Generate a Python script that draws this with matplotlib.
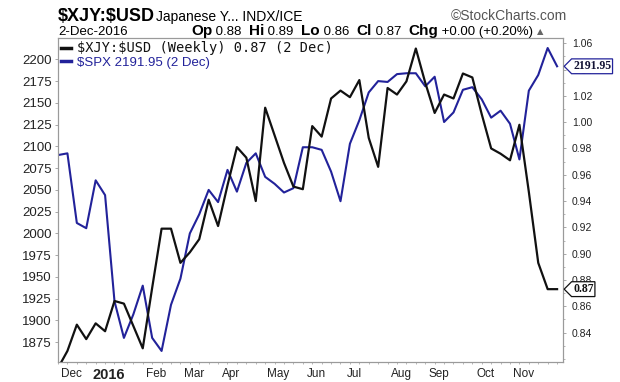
import numpy as np
import pandas as pd
import matplotlib
matplotlib.use("Agg")
import matplotlib.pyplot as plt
from matplotlib.path import Path
from matplotlib.ticker import FormatStrFormatter, MultipleLocator
from matplotlib.transforms import blended_transform_factory

plt.rcParams['font.family'] = ['Liberation Sans', 'DejaVu Sans']
plt.rcParams['text.parse_math'] = False

# weekly closes, 27-Nov-2015 .. 2-Dec-2016
dates = pd.date_range('2015-11-27', '2016-12-02', freq='W-FRI')

spx = [2090, 2092, 2012, 2006, 2061, 2044, 1922, 1880, 1907, 1940,
       1880, 1865, 1918, 1948, 2000, 2022, 2050, 2036, 2073, 2048,
       2081, 2092, 2065, 2057, 2047, 2052, 2099, 2099, 2096, 2071,
       2037, 2103, 2130, 2162, 2175, 2174, 2183, 2184, 2184, 2169,
       2180, 2128, 2139, 2165, 2168, 2154, 2133, 2141, 2126, 2085,
       2164, 2182, 2213, 2192]

xjy = [0.813, 0.826, 0.846, 0.835, 0.847, 0.841, 0.864, 0.862, 0.845, 0.828,
       0.874, 0.919, 0.919, 0.893, 0.901, 0.911, 0.941, 0.921, 0.952, 0.981,
       0.973, 0.940, 1.011, 0.990, 0.969, 0.951, 0.949, 0.997, 0.989, 1.018,
       1.024, 1.019, 1.032, 0.988, 0.966, 1.026, 1.021, 1.031, 1.056, 1.030,
       1.007, 1.021, 1.018, 1.037, 1.034, 1.006, 0.980, 0.976, 0.971, 0.998,
       0.947, 0.893, 0.873, 0.873]

month_keys = ['2015-12', '2016-01', '2016-02', '2016-03', '2016-04', '2016-05',
              '2016-06', '2016-07', '2016-08', '2016-09', '2016-10', '2016-11']
month_labels = ['Dec', '2016', 'Feb', 'Mar', 'Apr', 'May',
                'Jun', 'Jul', 'Aug', 'Sep', 'Oct', 'Nov']

spx_ticks = np.arange(1875, 2201, 25)
xjy_ticks = np.arange(0.84, 1.061, 0.02)

xjy_legend = '$XJY:$USD (Weekly) 0.87 (2 Dec)'
spx_legend = '$SPX 2191.95 (2 Dec)'

BLUE = '#22229a'
BLACK = '#111111'
GRID = '#9a9a9a'

W, H = 620, 382


def fx(x):
    return x / W


def fy(y):
    return 1 - y / H


# price tag shape: box with a point on the left
def tag_box(x0, y0, width, height, mutation_size):
    pad = mutation_size * 0.12
    x0 -= pad
    y0 -= pad
    width += 2 * pad
    height += 2 * pad
    tip = height * 0.5
    verts = [(x0 - tip, y0 + height / 2), (x0, y0), (x0 + width, y0),
             (x0 + width, y0 + height), (x0, y0 + height), (x0 - tip, y0 + height / 2)]
    return Path(verts, closed=True)


fig = plt.figure(figsize=(W / 100, H / 100), dpi=100)
ax = fig.add_axes([fx(58), fy(362), (563 - 58) / W, (362 - 38) / H])
ax2 = ax.twinx()

l_spx, = ax.plot(dates, spx, color=BLUE, lw=1.5)
l_xjy, = ax2.plot(dates, xjy, color=BLACK, lw=1.6)

ax.set_ylim(1852.3, 2224.5)
ax2.set_ylim(0.8176, 1.064)
ax.set_xlim(dates[1] - pd.Timedelta(days=3.7), dates[-1] + pd.Timedelta(days=4.4))

for a in (ax, ax2):
    for s in a.spines.values():
        s.set_color(GRID)
        s.set_linewidth(0.8)

# left axis (SPX)
ax.set_yticks(spx_ticks)
ax.tick_params(axis='y', labelsize=9.5, length=2.5, width=0.6, color=GRID,
               pad=2, labelcolor='#222222')

# right axis (XJY)
ax2.set_yticks(xjy_ticks)
ax2.yaxis.set_major_formatter(FormatStrFormatter('%.2f'))
ax2.yaxis.set_minor_locator(MultipleLocator(0.01))
ax2.tick_params(axis='y', which='major', labelsize=7.5, length=2.5, width=0.6,
                color=GRID, pad=4, labelcolor='#222222')
ax2.tick_params(axis='y', which='minor', length=1.5, width=0.5, color=GRID)

# month labels at the first weekly bar of each month
periods = dates.to_period('M')
month_pos = [dates[periods == pd.Period(k)][0] + pd.Timedelta(days=3) for k in month_keys]
ax.set_xticks(month_pos)
ax.set_xticklabels(month_labels)
ax.set_xticks(dates, minor=True)
ax.tick_params(axis='x', which='major', length=0, labelsize=8.5, pad=4, labelcolor='#222222')
ax.tick_params(axis='x', which='minor', length=1.5, width=0.5, color=GRID)
yr = ax.get_xticklabels()[1]
yr.set_fontweight('bold')
yr.set_fontsize(10.5)

# legend
leg = ax2.legend([l_xjy, l_spx], [xjy_legend, spx_legend], loc='upper left',
                 frameon=False, handlelength=0.7, handletextpad=0.5,
                 labelspacing=0.1, borderaxespad=0.15, borderpad=0.1,
                 prop={'size': 9.5}, labelcolor='linecolor')
for h in leg.legend_handles:
    h.set_linewidth(2.5)
t1, t2 = leg.get_texts()
t1.set_family('DejaVu Sans Mono')
t1.set_fontsize(9.8)
t2.set_family('Liberation Sans')
t2.set_fontsize(9.5)

# last-value tags (drawn on the top axes so they cover the tick labels)
spx_tr = blended_transform_factory(ax2.transAxes, ax.transData)
ax2.annotate('2191.95', xy=(1, spx[-1]), xycoords=spx_tr,
             xytext=(10, 0), textcoords='offset pixels', ha='left', va='center',
             fontsize=8.5, fontweight='bold', family='Liberation Serif', color='#111133',
             annotation_clip=False, zorder=10,
             bbox=dict(boxstyle=tag_box, fc='white', ec=BLUE, lw=0.9))
ax2.annotate('0.87', xy=(1, xjy[-1]), xycoords=ax2.get_yaxis_transform(),
             xytext=(10, 0), textcoords='offset pixels', ha='left', va='center',
             fontsize=8.5, fontweight='bold', family='Liberation Serif', color='#111111',
             annotation_clip=False, zorder=10,
             bbox=dict(boxstyle=tag_box, fc='white', ec=BLACK, lw=0.9))

# header
fig.text(fx(58), fy(21), '$XJY:$USD', fontsize=13, fontweight='bold', va='baseline')
fig.text(fx(156), fy(21), 'Japanese Y... INDX/ICE', fontsize=10, va='baseline')
fig.text(fx(567), fy(20), '\u00a9StockCharts.com', fontsize=10, color='#555555',
         ha='right', va='baseline')
fig.text(fx(58), fy(35), '2-Dec-2016', fontsize=9.5, va='baseline')

renderer = fig.canvas.get_renderer()
parts = [('Op', True), (' 0.88  ', False), ('Hi', True), (' 0.89  ', False),
         ('Lo', True), (' 0.86  ', False), ('Cl', True), (' 0.87  ', False),
         ('Chg', True), (' +0.00 (+0.20%) ', False)]
x = 191
for s, bold in parts:
    t = fig.text(fx(x), fy(35), s, va='baseline',
                 fontsize=11 if bold else 9.5,
                 fontweight='bold' if bold else 'normal')
    x += t.get_window_extent(renderer).width
fig.text(fx(x), fy(34), '\u25b2', fontsize=6, color='#666666', va='baseline',
         family='DejaVu Sans')

fig.savefig('out.png', dpi=100)
